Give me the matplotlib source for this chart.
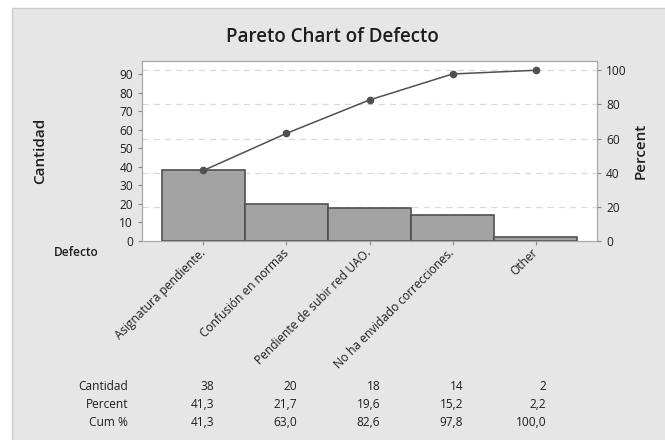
import matplotlib.pyplot as plt
import matplotlib.transforms as mtransforms
from matplotlib.patches import Rectangle
import numpy as np

# Data
defectos = ["Asignatura pendiente.", "Confusión en normas", "Pendiente de subir red UAO.",
            "No ha envidado correcciones.", "Other"]
cantidad = [38, 20, 18, 14, 2]

total = sum(cantidad)
percent = [c / total * 100 for c in cantidad]
cum_pct = list(np.cumsum(percent))

plt.rcParams["font.family"] = ["Open Sans", "DejaVu Sans"]
txt = "#1e1e1e"
bg = "#e6e6e6"
fs = 8.6

fig = plt.figure(figsize=(6.65, 4.4), dpi=100)
fig.patch.set_facecolor("white")
fig.patches.append(Rectangle((12 / 665, -0.01), 1.0, 1 - 8 / 440 + 0.01, transform=fig.transFigure,
                             facecolor=bg, edgecolor="#cccccc", lw=1.0, zorder=-10))

ax = fig.add_axes([142 / 665, 1 - 241 / 440, 455 / 665, 180 / 440])
ax.set_facecolor("white")
x = np.arange(len(defectos))
ax.bar(x, cantidad, width=1.0, color="#a3a3a3", edgecolor="#505050", linewidth=1.2, zorder=2)
ax.set_xlim(-0.74, 4.74)
ax.set_ylim(0, 97)
ax.set_yticks(range(0, 91, 10))

ax2 = ax.twinx()
ax2.set_ylim(0, 97 / total * 100)
ax2.set_yticks(range(0, 101, 20))
for v in range(20, 101, 20):
    ax.axhline(v / 100 * total, color="#d9d9d9", lw=0.9, ls=(0, (5, 4)), zorder=1)
ax2.plot(x, cum_pct, color="#505050", lw=1.1, marker="o", markersize=4.5, zorder=3)

for a in (ax, ax2):
    for s in a.spines.values():
        s.set_color("#a8a8a8")
    a.tick_params(colors="#888888", labelcolor=txt, labelsize=fs, length=3)

ax.set_xticks(x)
ax.set_xticklabels(defectos, rotation=45, ha="right", va="center", rotation_mode="anchor",
                   fontsize=fs, color=txt)
ax.tick_params(axis="x", pad=4)

ax.set_ylabel("Cantidad", fontsize=11, color=txt, labelpad=52, fontweight="semibold")
ax2.set_ylabel("Percent", fontsize=11, color=txt, labelpad=5, fontweight="semibold")
fig.text(0.5, 1 - 37 / 440, "Pareto Chart of Defecto", ha="center", va="center",
         fontsize=13.5, color=txt, fontweight="semibold")
fig.text(99 / 665, 1 - 253 / 440, "Defecto", ha="right", va="center", fontsize=fs,
         color=txt, fontweight="semibold")

# Summary table under the chart
tr = mtransforms.blended_transform_factory(ax.transData, fig.transFigure)
rows = [("Cantidad", [str(c) for c in cantidad]),
        ("Percent", [f"{p:.1f}".replace(".", ",") for p in percent]),
        ("Cum %", [f"{p:.1f}".replace(".", ",") for p in cum_pct])]
row_y = [386, 404, 422]
for (name, vals), yy in zip(rows, row_y):
    fy = 1 - yy / 440
    fig.text(128 / 665, fy, name, ha="right", va="center", fontsize=fs, color=txt)
    for i, v in enumerate(vals):
        ax.text(i + 0.13, fy, v, transform=tr, ha="right", va="center", fontsize=fs, color=txt)

fig.savefig("out.png", dpi=100, facecolor=fig.get_facecolor())
